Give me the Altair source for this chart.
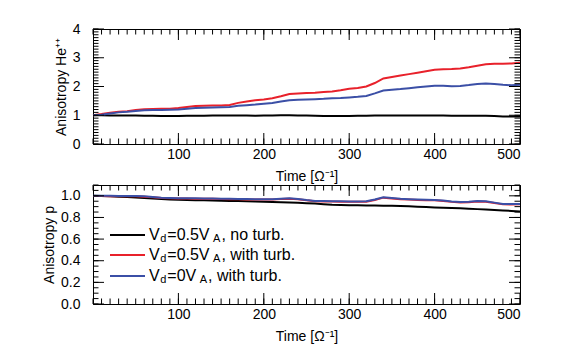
import altair as alt
import pandas as pd

# ---------------- data ----------------
time = list(range(0, 510, 10))

he_no_turb = [1.00, 1.00, 0.99, 0.99, 0.99, 0.99, 0.98, 0.98, 0.97, 0.97, 0.97,
              0.98, 0.98, 0.98, 0.99, 0.99, 0.99, 0.99, 0.99, 0.98, 0.99,
              0.99, 1.00, 1.00, 0.99, 0.99, 0.98, 0.97, 0.97, 0.97, 0.97,
              0.98, 0.98, 0.99, 0.99, 0.99, 0.99, 0.99, 0.99, 0.99, 0.99,
              0.99, 0.98, 0.98, 0.98, 0.98, 0.98, 0.97, 0.96, 0.96, 0.96]
he_vd05_turb = [1.00, 1.04, 1.09, 1.12, 1.14, 1.18, 1.21, 1.22, 1.23, 1.23, 1.25,
                1.29, 1.32, 1.33, 1.34, 1.34, 1.36, 1.43, 1.48, 1.52, 1.55,
                1.59, 1.66, 1.74, 1.76, 1.77, 1.78, 1.81, 1.83, 1.87, 1.92,
                1.95, 2.00, 2.12, 2.28, 2.33, 2.38, 2.43, 2.48, 2.53, 2.58,
                2.60, 2.61, 2.63, 2.67, 2.72, 2.77, 2.79, 2.79, 2.80, 2.83]
he_vd0_turb = [1.00, 1.02, 1.06, 1.10, 1.12, 1.15, 1.17, 1.18, 1.18, 1.19, 1.20,
               1.23, 1.25, 1.26, 1.27, 1.28, 1.29, 1.33, 1.35, 1.37, 1.40,
               1.43, 1.48, 1.52, 1.54, 1.55, 1.56, 1.57, 1.59, 1.60, 1.62,
               1.64, 1.67, 1.76, 1.86, 1.89, 1.91, 1.94, 1.97, 2.00, 2.03,
               2.03, 2.01, 2.02, 2.05, 2.09, 2.10, 2.09, 2.06, 2.04, 2.06]

p_no_turb = [1.000, 0.998, 0.995, 0.992, 0.988, 0.985, 0.980, 0.975, 0.970, 0.966, 0.963,
             0.961, 0.960, 0.958, 0.957, 0.955, 0.953, 0.951, 0.949, 0.947, 0.945,
             0.943, 0.941, 0.939, 0.936, 0.932, 0.928, 0.923, 0.918, 0.915, 0.913,
             0.912, 0.911, 0.910, 0.909, 0.908, 0.906, 0.903, 0.900, 0.896, 0.893,
             0.890, 0.887, 0.884, 0.880, 0.877, 0.873, 0.869, 0.865, 0.860, 0.856]
p_vd05_turb = [0.998, 0.998, 0.997, 0.996, 0.996, 0.995, 0.992, 0.986, 0.980, 0.977, 0.975,
               0.975, 0.974, 0.973, 0.972, 0.970, 0.969, 0.968, 0.967, 0.966, 0.965,
               0.966, 0.970, 0.974, 0.968, 0.958, 0.950, 0.948, 0.947, 0.946, 0.945,
               0.945, 0.946, 0.962, 0.983, 0.976, 0.968, 0.965, 0.962, 0.960, 0.958,
               0.952, 0.944, 0.939, 0.941, 0.947, 0.945, 0.933, 0.921, 0.920, 0.921]
p_vd0_turb = [1.000, 1.000, 1.000, 0.999, 0.999, 0.998, 0.995, 0.989, 0.983, 0.980, 0.978,
              0.978, 0.977, 0.976, 0.975, 0.973, 0.972, 0.971, 0.970, 0.969, 0.968,
              0.969, 0.973, 0.977, 0.971, 0.961, 0.953, 0.951, 0.950, 0.949, 0.948,
              0.948, 0.950, 0.966, 0.987, 0.980, 0.972, 0.969, 0.966, 0.964, 0.962,
              0.956, 0.948, 0.943, 0.945, 0.951, 0.949, 0.937, 0.925, 0.924, 0.925]

series_names = ["no turb", "vd05 turb", "vd0 turb"]
series_colors = ["#000000", "#e8212b", "#3b4fa6"]

x_major = [100, 200, 300, 400, 500]
x_minor = list(range(0, 510, 10))
he_major = [0, 1, 2, 3, 4]
he_minor = [i / 10 for i in range(0, 41)]
p_major = [0.0, 0.2, 0.4, 0.6, 0.8, 1.0]
p_minor = [i / 20 for i in range(0, 23)]

# legend text segments: main, subscript, main, subscript, main
legend_rows = [
    ["V", "d", "=0.5V", "A", ", no turb."],
    ["V", "d", "=0.5V", "A", ", with turb."],
    ["V", "d", "=0V", "A", ", with turb."],
]

# ---------------- layout ----------------
W = 427
H_TOP = 115
H_BOT = 119
MAJ = 11
MIN = 5.5
FONT = "Liberation Sans"
X_TITLE = "Time [Ω⁻¹]"

x_scale = alt.Scale(domain=[0, 500], nice=False, zero=False)
x_axis = alt.Axis(values=x_major, format="d")


def long_df(values_list):
    rows = []
    for name, vals in zip(series_names, values_list):
        for t, v in zip(time, vals):
            rows.append({"t": t, "v": v, "s": name})
    return pd.DataFrame(rows)


def tick_layers(y_scale, y_axis, y_title, y_major, y_minor, H):
    layers = []
    for vals, L in [(x_major, MAJ), (x_minor, MIN)]:
        base = alt.Chart(pd.DataFrame({"tx": vals})).mark_rule(color="black", strokeWidth=1)
        xe = alt.X("tx:Q", scale=x_scale, title=X_TITLE, axis=x_axis)
        layers.append(base.encode(x=xe, y=alt.value(H), y2=alt.value(H - L)))
        layers.append(base.encode(x=xe, y=alt.value(0), y2=alt.value(L)))
    for vals, L in [(y_major, MAJ), (y_minor, MIN)]:
        base = alt.Chart(pd.DataFrame({"ty": vals})).mark_rule(color="black", strokeWidth=1)
        ye = alt.Y("ty:Q", scale=y_scale, title=y_title, axis=y_axis)
        layers.append(base.encode(y=ye, x=alt.value(0), x2=alt.value(L)))
        layers.append(base.encode(y=ye, x=alt.value(W), x2=alt.value(W - L)))
    return layers


def panel(values_list, y_domain, y_major, y_minor, y_title, H, fmt):
    y_scale = alt.Scale(domain=y_domain, nice=False, zero=False)
    y_axis = alt.Axis(values=y_major, format=fmt)
    lines = alt.Chart(long_df(values_list)).mark_line(strokeWidth=2).encode(
        x=alt.X("t:Q", scale=x_scale, title=X_TITLE, axis=x_axis),
        y=alt.Y("v:Q", scale=y_scale, title=y_title, axis=y_axis),
        color=alt.Color("s:N", scale=alt.Scale(domain=series_names, range=series_colors),
                        legend=None),
        order=alt.Order("t:Q"),
    )
    return lines, tick_layers(y_scale, y_axis, y_title, y_major, y_minor, H)


top_lines, top_ticks = panel([he_no_turb, he_vd05_turb, he_vd0_turb], [0, 4],
                             he_major, he_minor, "Anisotropy He⁺⁺", H_TOP, "d")
bot_lines, bot_ticks = panel([p_no_turb, p_vd05_turb, p_vd0_turb], [0, 1.1],
                             p_major, p_minor, "Anisotropy p", H_BOT, ".1f")

# custom legend (inside bottom panel)
row_y = [50, 70, 91]
line_x0, line_x1 = 17, 52
text_x0 = 56
FS_MAIN = 16
FS_SUB = 11
CHAR_W = {"V": 0.667, "d": 0.556, "=": 0.584, "0": 0.556, ".": 0.278, "5": 0.556,
          "A": 0.667, ",": 0.278, " ": 0.278, "n": 0.556, "o": 0.556, "t": 0.278,
          "u": 0.556, "r": 0.333, "b": 0.556, "w": 0.722, "i": 0.222, "h": 0.556}


def text_w(s, fs):
    return sum(CHAR_W.get(c, 0.556) for c in s) * fs


main_seg, sub_seg = [], []
for ry, segs in zip(row_y, legend_rows):
    x = text_x0
    for k, s in enumerate(segs):
        if k % 2 == 1:
            sub_seg.append({"txt": s, "px": x + 0.5, "py": ry + 4})
            x += text_w(s, FS_SUB) + 1.5
        else:
            main_seg.append({"txt": s, "px": x, "py": ry})
            x += text_w(s, FS_MAIN) + (3 if k == 2 else 0)

legend_layers = []
for ry, col in zip(row_y, series_colors):
    legend_layers.append(
        alt.Chart(pd.DataFrame({"k": [0]})).mark_rule(color=col, strokeWidth=2).encode(
            x=alt.value(line_x0), x2=alt.value(line_x1), y=alt.value(ry)))
legend_layers.append(
    alt.Chart(pd.DataFrame(main_seg)).mark_text(
        align="left", baseline="middle", font=FONT, fontSize=FS_MAIN, color="black"
    ).encode(x=alt.X("px:Q", scale=None), y=alt.Y("py:Q", scale=None), text="txt:N"))
legend_layers.append(
    alt.Chart(pd.DataFrame(sub_seg)).mark_text(
        align="left", baseline="middle", font=FONT, fontSize=FS_SUB, color="black"
    ).encode(x=alt.X("px:Q", scale=None), y=alt.Y("py:Q", scale=None), text="txt:N"))

top = alt.layer(top_lines, *top_ticks).properties(width=W, height=H_TOP)
bot = alt.layer(bot_lines, *bot_ticks, *legend_layers).properties(width=W, height=H_BOT)

chart = alt.vconcat(top, bot, spacing=0).properties(
    padding={"left": 34, "top": 13, "right": 5, "bottom": 5},
    background="white",
).configure_view(
    stroke="black", strokeWidth=1
).configure_axis(
    domain=False, ticks=False, tickSize=0, grid=False,
    labelFont=FONT, titleFont=FONT, labelFontSize=14, titleFontSize=14,
    titleFontWeight="normal", labelColor="black", titleColor="black",
).configure_axisX(
    labelPadding=3, titlePadding=8
).configure_axisY(
    labelPadding=13, titlePadding=4
)

chart.save("out.html", embed_options={"renderer": "svg", "actions": False})
